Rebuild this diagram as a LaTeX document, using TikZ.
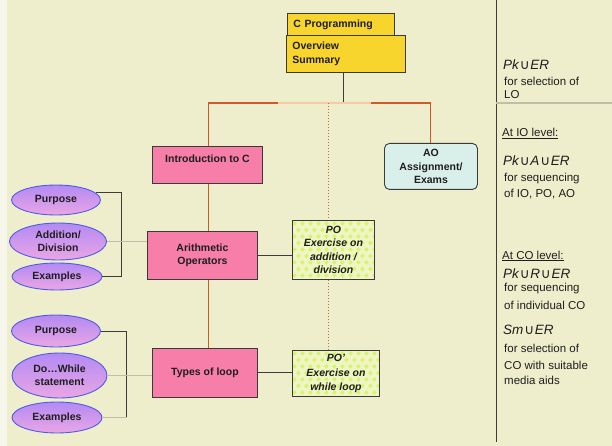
\documentclass[tikz,border=0pt]{standalone}
\usepackage{fontspec}
\setmainfont{Liberation Sans}
\newfontfamily\symfont{DejaVu Sans}
\usetikzlibrary{shapes.geometric,calc}

\definecolor{bg}{HTML}{EEEECC}
\definecolor{bgstrip}{HTML}{F6F6EA}
\definecolor{yel}{HTML}{F8D52C}
\definecolor{pinkbox}{HTML}{F77EA8}
\definecolor{boxedge}{HTML}{3A3A3A}
\definecolor{pofill}{HTML}{F1F5C6}
\definecolor{podot}{HTML}{D2F76A}
\definecolor{aofill}{HTML}{D9EFEA}
\definecolor{ovaltop}{HTML}{B38AF4}
\definecolor{ovalbot}{HTML}{EAA6E4}
\definecolor{ovaledge}{HTML}{4C5CE6}
\definecolor{trunkc}{HTML}{C0621C}
\definecolor{barc}{HTML}{D0582A}
\definecolor{peach}{HTML}{F4CBA4}
\definecolor{dotc}{HTML}{C86A3C}
\definecolor{grayln}{HTML}{BEBEAA}
\definecolor{darkln}{HTML}{3C3C3C}
\definecolor{txt}{HTML}{1E1E1E}

\newcommand{\uu}{\kern0.8pt{\symfont\char"222A}\kern0.8pt}

\tikzset{
  box/.style={draw=boxedge, line width=0.9pt, align=center, inner sep=0pt,
    text=txt, font=\fontsize{10.5}{13.5}\selectfont\bfseries},
  ybox/.style={box, fill=yel, align=left, inner xsep=6pt, anchor=north west},
  pbox/.style={box, fill=pinkbox, anchor=north west},
  pobox/.style={box, fill=pofill, anchor=north west,
    font=\fontsize{10.5}{13.5}\selectfont\bfseries\itshape,
    path picture={
      \foreach \j in {0,...,9}{
        \foreach \i in {0,...,11}{
          \pgfmathsetmacro\px{\i*8+mod(\j,2)*4+2}
          \pgfmathsetmacro\py{\j*6.5+3}
          \fill[podot] ($(path picture bounding box.north west)+(\px pt,-\py pt)$)
            ++(0,2.3pt) -- ++(2.3pt,-2.3pt) -- ++(-2.3pt,-2.3pt) -- ++(-2.3pt,2.3pt) -- cycle;
        }
      }
    }},
  aobox/.style={box, fill=aofill, rounded corners=5pt, anchor=north west},
  oval/.style={ellipse, draw=ovaledge, line width=0.9pt, top color=ovaltop,
    bottom color=ovalbot, align=center, inner sep=0pt, text=txt,
    font=\fontsize{10.5}{13}\selectfont\bfseries},
  trunk/.style={draw=trunkc, line width=1.4pt},
  barln/.style={draw=barc, line width=1.4pt},
  peachln/.style={draw=peach, line width=2pt},
  dotln/.style={draw=dotc, line width=1pt, dotted},
  darkline/.style={draw=darkln, line width=1pt},
  grayline/.style={draw=grayln, line width=1.6pt},
  note/.style={anchor=base west, inner sep=0pt, text=txt,
    font=\fontsize{11.5}{14}\selectfont},
  notehead/.style={anchor=base west, inner sep=0pt, text=txt,
    font=\fontsize{13.5}{15}\selectfont\itshape},
}

\begin{document}
\begin{tikzpicture}[x=1pt,y=-1pt]
\useasboundingbox (0,0) rectangle (612,446);
\fill[bg] (0,0) rectangle (612,446);
\fill[bgstrip] (0,0) rectangle (7,446);

% ---- top of the tree
\node[ybox, text width=95pt, minimum height=22pt] (cprog) at (287,13) {C Programming};
\node[ybox, text width=107pt, minimum height=37pt] (overview) at (286,35) {Overview\\Summary};

% ---- main column
\node[pbox, minimum width=110pt, minimum height=37pt] (intro) at (152,146) {Introduction to C\\\mbox{}};
\node[pbox, minimum width=110pt, minimum height=48pt] (arith) at (147,231) {Arithmetic\\Operators};
\node[pbox, minimum width=105pt, minimum height=49pt] (types) at (152,348) {Types of loop};

% ---- practice objectives
\node[pobox, minimum width=82pt, minimum height=59pt] (po) at (292,220) {PO\\Exercise on\\addition /\\division};
\node[pobox, minimum width=87pt, minimum height=46pt] (popr) at (292,350) {PO'\\[1pt]Exercise on\\[1pt]while loop};

% ---- assessment objective
\node[aobox, minimum width=93pt, minimum height=46pt] (ao) at (384,143) {AO\\Assignment/\\Exams};

% ---- content objects
\node[oval, minimum width=89pt, minimum height=30pt] (purp1) at (56,200) {Purpose};
\node[oval, minimum width=97pt, minimum height=37pt] (add1) at (58,241.5) {Addition/\\Division};
\node[oval, minimum width=90pt, minimum height=27pt] (exa1) at (57,276.5) {Examples};

\node[oval, minimum width=89pt, minimum height=32pt] (purp2) at (56,331) {Purpose};
\node[oval, minimum width=95pt, minimum height=45pt] (dowh) at (59.5,375.5) {Do…While\\statement};
\node[oval, minimum width=90pt, minimum height=31pt] (exa2) at (57,417.5) {Examples};

% ---- junction points
\coordinate (bartop) at (343,103);
\coordinate (barL) at (208.5,103);
\coordinate (barML) at (278,103);
\coordinate (barMR) at (371,103);
\coordinate (barR) at (430.5,103);
\coordinate (barD) at (328,103);

% ---- connectors of the tree
\draw[darkline] (overview.south -| bartop) -- (bartop);
\draw[peachln] (barML) -- (barMR);
\draw[barln] (intro.north -| barL) -- (barL) -- (barML);
\draw[barln] (barMR) -- (barR) -- (ao.north -| barR);
\draw[trunk] (intro.south -| barL) -- (arith.north -| barL);
\draw[trunk] (arith.south -| barL) -- (types.north -| barL);
\draw[dotln] (barD) -- (po.north -| barD);
\draw[dotln] (po.south -| barD) -- (popr.north -| barD);

\draw[darkline] (arith.east) -- (arith.east -| po.west);
\draw[darkline] (types.east) -- (types.east -| popr.west);

% ---- content objects to their topics
\draw[darkline] (purp1.10) -- ++(25.5,0) coordinate (brk1) |- (exa1.east);
\draw[grayline] (add1.east) -- (add1.east -| arith.west);

\draw[darkline] (purp2.east) -- ++(26,0) coordinate (brk2) -- (brk2 |- exa2.east);
\draw[grayline] (brk2 |- exa2.east) -- (exa2.east);
\draw[grayline] (dowh.east) -- (dowh.east -| types.west);

% ---- side panel
\coordinate (divtop) at (496,0);
\coordinate (divbot) at (496,442);
\coordinate (sepL) at (496,103);
\coordinate (sepR) at (612,103);
\draw[darkline] (divtop) -- (divbot);
\draw[grayline, line width=2pt] (sepL) -- (sepR);

\node[notehead] (h1) at (503,70) {Pk\uu ER};
\node[note] (h1a) at (504,86) {for selection of};
\node[note] (h1b) at (504,99) {LO};

\node[note] (io) at (502,137) {\underline{At IO level:}};
\node[notehead] (h2) at (503,165.5) {Pk\uu A\uu ER};
\node[note] (h2a) at (504,182) {for sequencing};
\node[note] (h2b) at (504,197) {of IO, PO, AO};

\node[note] (co) at (502,259) {\underline{At CO level:}};
\node[notehead] (h3) at (503,278.5) {Pk\uu R\uu ER};
\node[note] (h3a) at (504,291) {for sequencing};
\node[note] (h3b) at (504,309) {of individual CO};

\node[notehead] (h4) at (503,334.5) {Sm\uu ER};
\node[note] (h4a) at (504,352) {for selection of};
\node[note] (h4b) at (504,369) {CO with suitable};
\node[note] (h4c) at (504,384) {media aids};
\end{tikzpicture}
\end{document}
